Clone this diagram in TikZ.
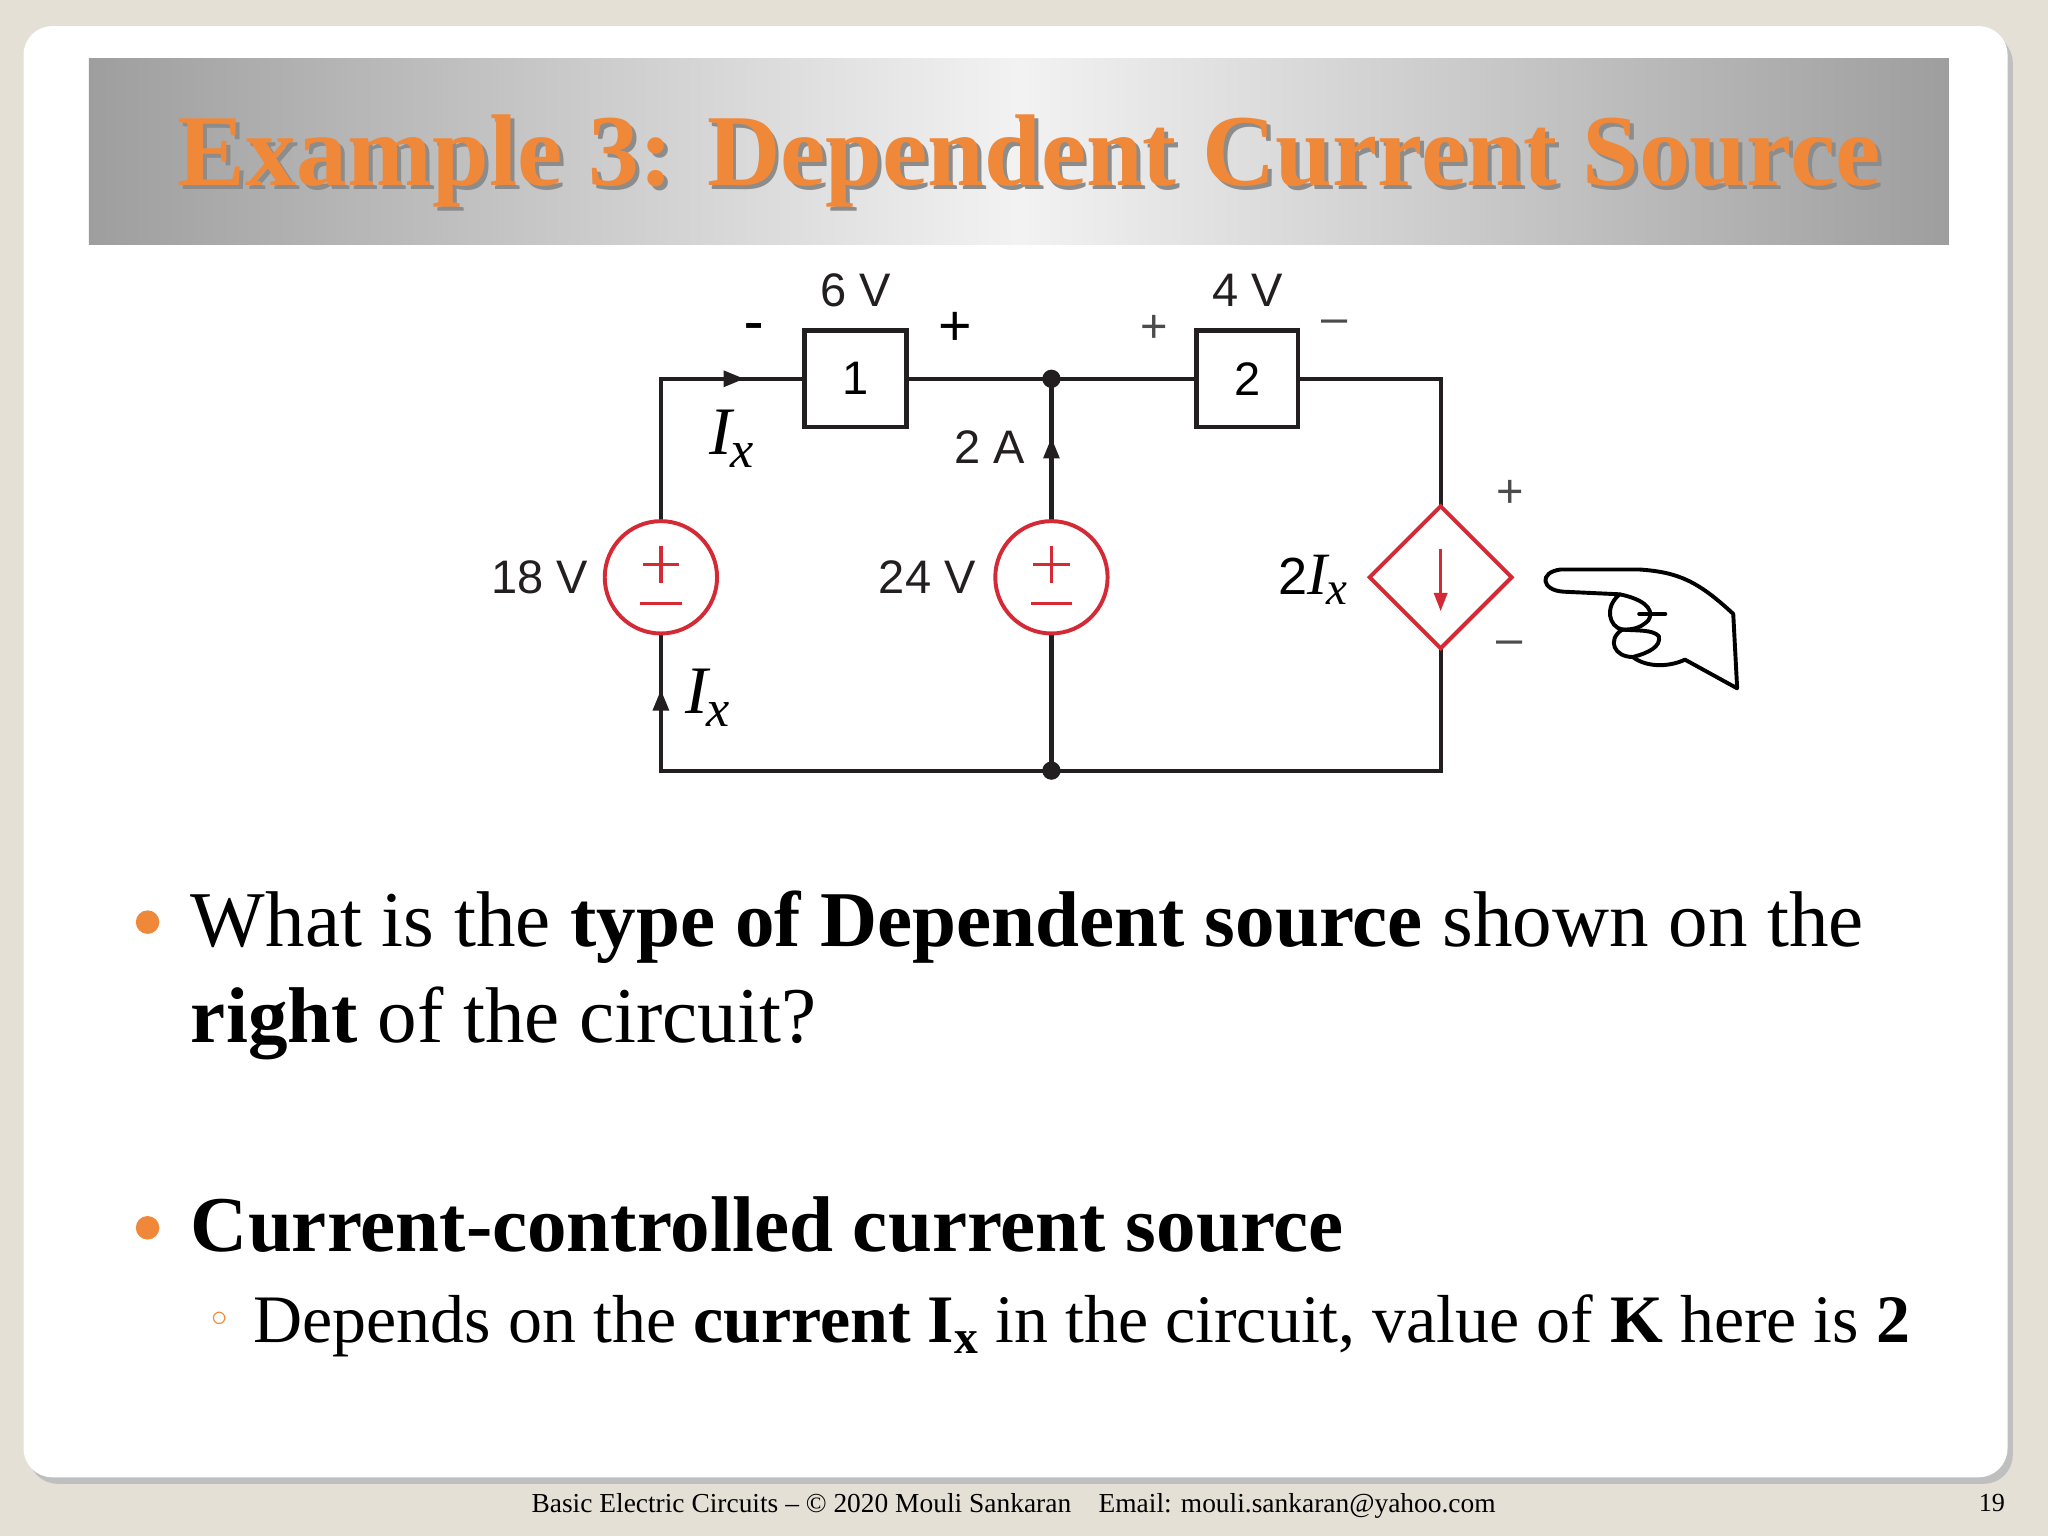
\documentclass[tikz,border=0pt]{standalone}
\usepackage{fontspec}
\setmainfont{Liberation Serif}
\newfontfamily\cirf{Liberation Sans}
\usetikzlibrary{arrows.meta,shapes.geometric,shadows}
\definecolor{frame}{HTML}{E4E0D6}
\definecolor{ttl}{HTML}{F0883A}
\definecolor{srcred}{HTML}{D42A36}
\definecolor{wire}{HTML}{231F20}
\tikzset{
 wr/.style={draw=wire,line width=3.2pt},
 bx/.style={draw=wire,line width=3.2pt,fill=white,minimum width=78pt,minimum height=74pt,inner sep=0pt,font=\cirf\fontsize{36}{36}\selectfont},
 src/.style={circle,draw=srcred,line width=3pt,fill=white,minimum size=86pt,inner sep=0pt},
 lbl/.style={font=\cirf\fontsize{36}{36}\selectfont,text=wire},
 dot/.style={circle,fill=wire,inner sep=0pt,minimum size=14pt},
 body/.style={font=\fontsize{60.5}{62}\selectfont,anchor=base west,inner sep=0pt},
 ix/.style={font=\itshape\fontsize{52}{52}\selectfont,anchor=base},
}
\begin{document}
\begin{tikzpicture}[x=1pt,y=-1pt]
\useasboundingbox (0,0) rectangle (1568,1176);
\fill[frame] (0,0) rectangle (1568,1176);
\fill[black!25,rounded corners=22pt] (22,26) rectangle (1541,1136);
\fill[white,rounded corners=22pt] (18,20) rectangle (1537,1131);
% title banner
\shade[left color=black!38,right color=black!38,middle color=black!5] (68,45) rectangle (1492,187);
\node[font=\bfseries\fontsize{78}{80}\selectfont,text=black!45,anchor=base] at (791,145) {Example 3: Dependent Current Source};
\node[font=\bfseries\fontsize{78}{80}\selectfont,text=ttl,anchor=base] (title) at (788,142) {Example 3: Dependent Current Source};
% circuit
\coordinate (tl) at (506,290); \coordinate (tm) at (805,290); \coordinate (tr) at (1103,290);
\coordinate (bl) at (506,590); \coordinate (bm) at (805,590); \coordinate (br) at (1103,590);
\draw[wr] (tl) -- (tr) -- (br) -- (bl) -- cycle;
\draw[wr] (tm) -- (bm);
\node[bx] (b1) at (655,290) {1};
\node[bx] (b2) at (955,290) {2};
\node[src] (s1) at (506,442) {};
\node[src] (s2) at (805,442) {};
\foreach \s in {s1,s2}{
 \draw[srcred,line width=2.5pt] ([yshift=24pt]\s.center) -- ([yshift=-4pt]\s.center) ([xshift=-14pt,yshift=10pt]\s.center) -- ([xshift=14pt,yshift=10pt]\s.center);
 \draw[srcred,line width=2.5pt] ([xshift=-16pt,yshift=-20pt]\s.center) -- ([xshift=16pt,yshift=-20pt]\s.center);}
\node[diamond,draw=srcred,line width=3pt,fill=white,minimum size=110pt,inner sep=0pt] (d) at (1103,442) {};
\draw[srcred,line width=2.5pt,-{Triangle[length=14pt,width=10pt]}] ([yshift=22pt]d.center) -- ([yshift=-26pt]d.center);
\node[dot] (n1) at (tm) {}; \node[dot] (n2) at (bm) {};
\draw[wire,-{Triangle[length=16pt,width=12pt]},line width=3pt] (540,290) -- (570,290);
\draw[wire,-{Triangle[length=16pt,width=12pt]},line width=3pt] (805,360) -- (805,335);
\draw[wire,-{Triangle[length=16pt,width=12pt]},line width=3pt] (506,555) -- (506,528);
% labels
\node[lbl] at (655,222) {6 V};
\node[lbl] at (955,222) {4 V};
\node[font=\fontsize{44}{44}\selectfont\bfseries] at (577,254) {-};
\node[font=\cirf\fontsize{44}{44}\selectfont] at (731,252) {+};
\node[font=\cirf\fontsize{36}{36}\selectfont,text=black!70] at (884,252) {+};
\node[font=\cirf\fontsize{36}{36}\selectfont,text=black!70] at (1022,250) {–};
\node[ix] at (560,348) {I\kern-1pt\raisebox{-10pt}{\fontsize{40}{40}\selectfont x}};
\node[ix] at (542,546) {I\kern-1pt\raisebox{-10pt}{\fontsize{40}{40}\selectfont x}};
\node[lbl] at (758,342) {2 A};
\node[lbl] at (413,442) {18 V};
\node[lbl] at (710,442) {24 V};
\node[anchor=base,font=\cirf\fontsize{40}{40}\selectfont] at (1005,455) {2{\rmfamily\itshape\fontsize{46}{46}\selectfont I\kern-1pt\raisebox{-8pt}{\fontsize{36}{36}\selectfont x}}};
\node[font=\cirf\fontsize{36}{36}\selectfont,text=black!70] at (1156,378) {+};
\node[font=\cirf\fontsize{36}{36}\selectfont,text=black!70] at (1156,496) {–};
% hand
\begin{scope}[line width=3pt,line join=round,line cap=round]
\draw[fill=white] (1330,527) -- (1327,470) .. controls (1300,445) and (1285,438) .. (1255,436) -- (1195,436) .. controls (1178,438) and (1180,452) .. (1197,453) -- (1240,455) .. controls (1228,465) and (1232,480) .. (1242,482) .. controls (1230,490) and (1236,503) .. (1250,503) .. controls (1262,512) and (1280,510) .. (1290,505) -- (1330,527);
\draw (1240,455) .. controls (1255,458) and (1268,465) .. (1262,475) .. controls (1255,482) and (1248,482) .. (1242,482);
\draw (1250,503) .. controls (1262,500) and (1272,495) .. (1270,487) .. controls (1265,482) and (1255,483) .. (1242,482);
\draw (1255,470) -- (1275,470);
\end{scope}
% text
\fill[ttl] (113,706) circle (9pt);
\node[body] (q1) at (146,725) {What is the \textbf{type of Dependent source} shown on the};
\node[body] (q2) at (146,798) {\textbf{right} of the circuit?};
\fill[ttl] (113,940) circle (9pt);
\node[body] (a1) at (146,958) {\textbf{Current-controlled current source}};
\node[font=\fontsize{30}{30}\selectfont,text=ttl] at (168,1010) {$\circ$};
\node[body,font=\fontsize{52}{52}\selectfont] (a2) at (194,1028) {Depends on the \textbf{current I\textsubscript{x}} in the circuit, value of \textbf{K} here is \textbf{2}};
\node[font=\fontsize{21}{21}\selectfont,anchor=base] (ft) at (776,1158) {Basic Electric Circuits – © 2020 Mouli Sankaran\quad Email: mouli.sankaran@yahoo.com};
\node[font=\fontsize{20}{20}\selectfont,anchor=base] (pg) at (1525,1157) {19};
\end{tikzpicture}
\end{document}
